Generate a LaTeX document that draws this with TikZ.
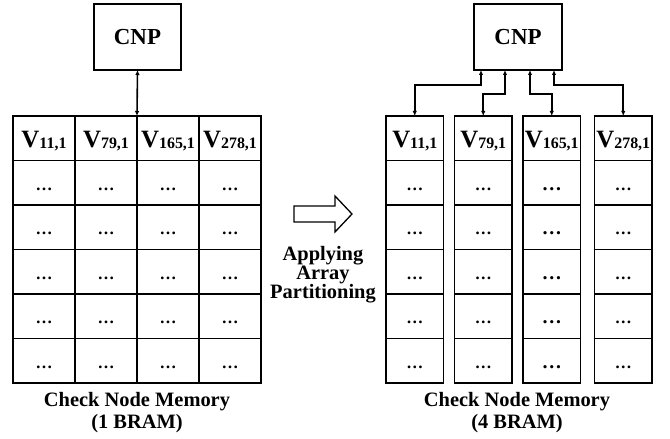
\documentclass[tikz,border=0pt]{standalone}
\usepackage{fontspec}
\setmainfont{Liberation Serif}
\usetikzlibrary{arrows.meta}
\newcommand{\cellfont}{\fontsize{25}{25}\selectfont\bfseries}
\newcommand{\dotfont}{\fontsize{17}{17}\selectfont\bfseries}
\newcommand{\capfont}{\fontsize{20.5}{22}\selectfont\bfseries}
\newcommand{\vlabel}[1]{V\raisebox{-1bp}{\fontsize{16}{16}\selectfont #1}}
\tikzset{
  every node/.style={inner sep=0pt,outer sep=0pt},
  unit/.style={draw,line width=1.7bp,minimum width=87.5bp,minimum height=66bp,font=\fontsize{23}{23}\selectfont\bfseries},
  hcell/.style={draw,line width=1.7bp,minimum height=44.5bp,font=\cellfont,text height=19bp,text depth=0bp},
  dcell/.style={draw,line width=1.7bp,minimum height=44.5bp,font=\dotfont,text height=15bp,text depth=0bp},
  link/.style={line width=1.6bp,{Latex[length=5bp,width=4.5bp]}-{Latex[length=5bp,width=4.5bp]}},
  caption/.style={font=\capfont,align=center,anchor=north}
}
\begin{document}
\begin{tikzpicture}[x=1bp,y=-1bp]
\path[use as bounding box] (0,0) rectangle (670,439);

% single memory: one wide table behind one port
\node[unit] (cnpL) at (137.5,37) {CNP};
\foreach \c/\x/\v in {1/44/{11,1},2/106/{79,1},3/168/{165,1},4/230/{278,1}}{
  \node[hcell,minimum width=62bp] (L-\c-0) at (\x,138.25) {\vlabel{\v}};
  \foreach \r in {1,...,5}
    \node[dcell,minimum width=62bp] (L-\c-\r) at (\x,{138.25+44.5*\r}) {…};
}
\draw[link] (cnpL.south) -- (L-2-0.north east);
\node[caption] (capL) at (137,392) {Check Node Memory\\(1 BRAM)};

\draw[line width=1.3bp,line join=miter] (294,206) -- (335,206) -- (335,196) -- (352,214)
  -- (335,232) -- (335,222) -- (294,222) -- cycle;
\node[align=center,anchor=north,font=\fontsize{20.5}{16.5}\selectfont\bfseries] (apply) at (323,246)
  {Applying\\Array\\Partitioning};

% partitioned memory: four banks, one port each
\node[unit] (cnpR) at (518,37) {CNP};
\foreach \c/\x/\v/\s in {1/414.75/{11,1}/17,2/483.25/{79,1}/17,3/551.75/{165,1}/20,4/623.25/{278,1}/17}{
  \node[hcell,minimum width=57.5bp] (R-\c-0) at (\x,138.25) {\vlabel{\v}};
  \foreach \r in {1,...,5}
    \node[dcell,minimum width=57.5bp,font=\fontsize{\s}{\s}\selectfont\bfseries] (R-\c-\r) at (\x,{138.25+44.5*\r}) {…};
}
\foreach \n/\dx/\dy in {1/-37/15,2/-13/24,3/12/24,4/36/15}{
  \coordinate (p\n) at ([xshift=\dx bp]cnpR.south);
  \draw[link] (p\n) -- ++(0,\dy) -| (R-\n-0.north);
}
\node[caption] (capR) at (517,392) {Check Node Memory\\(4 BRAM)};
\end{tikzpicture}
\end{document}
